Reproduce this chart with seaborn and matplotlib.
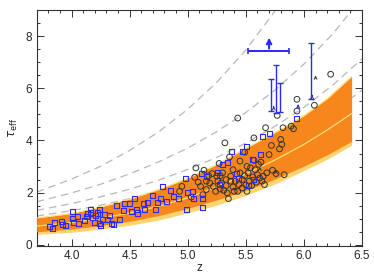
import numpy as np
import pandas as pd
import matplotlib
matplotlib.use("Agg")
import matplotlib.pyplot as plt
import seaborn as sns
from matplotlib.ticker import MultipleLocator

# model band
band_z = [3.7, 4.0, 4.25, 4.5, 4.75, 5.0, 5.25, 5.5, 5.75, 6.0, 6.2, 6.41]
band_upper = [1.03, 1.2, 1.45, 1.75, 2.12, 2.55, 3.08, 3.7, 4.3, 4.95, 5.6, 6.45]
band_mid = [0.72, 0.85, 1.02, 1.22, 1.48, 1.8, 2.22, 2.72, 3.25, 3.85, 4.4, 5.03]
band_lower_in = [0.5, 0.6, 0.74, 0.9, 1.12, 1.4, 1.72, 2.08, 2.52, 3.02, 3.45, 3.97]
band_lower_out = [0.4, 0.48, 0.6, 0.75, 0.95, 1.22, 1.52, 1.9, 2.33, 2.85, 3.28, 3.82]

# dashed gray curves
dash_z = [3.7, 4.0, 4.25, 4.5, 4.75, 5.0, 5.25, 5.5, 5.75, 6.0, 6.25, 6.5]
dash_1 = [2.02, 2.52, 3.01, 3.62, 4.33, 5.20, 6.23, 7.47, 8.96, 10.7, 12.8, 15.3]
dash_2 = [1.65, 1.99, 2.32, 2.72, 3.18, 3.71, 4.34, 5.07, 5.93, 6.93, 8.1, 9.47]
dash_3 = [1.32, 1.58, 1.84, 2.13, 2.48, 2.89, 3.35, 3.90, 4.54, 5.27, 6.13, 7.13]
dash_4 = [1.10, 1.31, 1.52, 1.77, 2.06, 2.40, 2.79, 3.24, 3.77, 4.38, 5.10, 5.93]

# blue squares
sq_z = [3.81, 3.85, 3.84, 3.91, 3.92, 3.95, 4.01, 4.01, 4.02, 4.05, 4.06, 4.11,
        4.13, 4.14, 4.16, 4.16, 4.18, 4.20, 4.21, 4.22, 4.24, 4.24, 4.25, 4.27,
        4.28, 4.31, 4.33, 4.34, 4.36, 4.39, 4.41, 4.45, 4.46, 4.50, 4.52, 4.54,
        4.56, 4.57, 4.62, 4.63, 4.65, 4.70, 4.72, 4.74, 4.77, 4.78, 4.82, 4.85,
        4.88, 4.92, 4.98, 4.99, 5.00, 5.04, 5.05, 5.12, 5.13, 5.13, 5.16, 5.26,
        5.27, 5.30, 5.34, 5.38, 5.42, 5.44, 5.47, 5.51, 5.52, 5.56, 5.57, 5.63,
        5.64, 5.70, 5.94]
sq_tau = [0.71, 0.86, 0.62, 0.90, 0.76, 0.73, 1.27, 1.01, 0.86, 1.09, 0.81, 0.92,
          1.09, 1.19, 1.37, 1.22, 1.03, 0.86, 1.12, 1.22, 1.37, 0.83, 0.73, 0.96,
          1.15, 0.96, 1.12, 0.81, 0.77, 1.50, 0.96, 1.32, 1.58, 1.58, 1.28, 1.76,
          1.37, 1.22, 1.58, 1.37, 1.63, 1.88, 1.37, 1.63, 1.76, 2.22, 1.67, 2.09,
          1.86, 1.76, 2.54, 1.37, 1.99, 2.05, 1.76, 2.73, 1.78, 1.42, 2.63, 2.78,
          2.33, 3.08, 3.17, 3.59, 2.73, 2.54, 3.59, 3.78, 2.29, 3.29, 2.50, 3.46,
          4.14, 4.26, 4.83]

# black circles
ci_z = [4.93, 4.95, 5.03, 5.06, 5.09, 5.07, 5.11, 5.13, 5.14, 5.16, 5.16, 5.18,
        5.19, 5.21, 5.22, 5.24, 5.25, 5.26, 5.27, 5.28, 5.28, 5.29, 5.30, 5.31,
        5.32, 5.33, 5.33, 5.34, 5.35, 5.36, 5.37, 5.37, 5.39, 5.39, 5.40, 5.41,
        5.43, 5.43, 5.44, 5.45, 5.45, 5.47, 5.47, 5.49, 5.49, 5.50, 5.51, 5.51,
        5.52, 5.53, 5.54, 5.55, 5.56, 5.57, 5.57, 5.58, 5.59, 5.60, 5.61, 5.62,
        5.63, 5.64, 5.65, 5.66, 5.67, 5.68, 5.70, 5.72, 5.73, 5.76, 5.77, 5.79,
        5.80, 5.81, 5.82, 5.83, 5.89, 5.91, 5.94, 5.94, 6.09, 6.23]
ci_tau = [2.05, 2.24, 1.83, 2.59, 2.40, 2.95, 2.24, 1.92, 2.86, 2.44, 2.12, 2.65,
          2.37, 2.73, 2.24, 2.05, 2.63, 2.44, 3.12, 2.14, 2.65, 2.37, 2.76, 2.09,
          3.91, 2.50, 2.27, 1.99, 1.77, 3.37, 2.44, 2.63, 2.22, 2.88, 2.05, 2.44,
          2.05, 4.86, 2.31, 2.76, 3.21, 2.50, 2.18, 2.65, 3.55, 2.29, 3.01, 2.05,
          2.76, 2.44, 2.95, 2.27, 2.60, 4.10, 3.24, 2.88, 2.40, 2.69, 3.08, 2.56,
          3.17, 2.44, 2.63, 2.31, 4.49, 2.76, 3.46, 3.81, 2.86, 2.73, 4.96, 3.68,
          4.04, 3.85, 4.49, 2.69, 4.55, 4.45, 5.58, 5.13, 5.35, 6.54]

# black lower-limit arrows (z, tau start, tau end)
arr_z = [5.62, 5.74, 5.76, 6.07, 6.10]
arr_lo = [2.80, 5.20, 2.72, 5.62, 6.28]
arr_hi = [3.10, 5.42, 2.98, 5.85, 6.60]

# blue vertical ranges
bar_z = [5.72, 5.76, 5.79, 6.06]
bar_lo = [5.13, 5.06, 5.09, 5.58]
bar_hi = [6.37, 6.88, 6.22, 7.72]

sq = pd.DataFrame({"z": sq_z, "tau": sq_tau})
ci = pd.DataFrame({"z": ci_z, "tau": ci_tau})

sns.set_style("ticks")
plt.rcParams["font.family"] = ["Liberation Sans", "DejaVu Sans"]
plt.rcParams["font.size"] = 8.5

fig = plt.figure(figsize=(3.74, 2.8), dpi=100)
ax = fig.add_axes([0.098, 0.121, 0.870, 0.843])

for d in [dash_1, dash_2, dash_3, dash_4]:
    ax.plot(dash_z, d, color="#b8b8b8", lw=0.9, ls=(0, (6, 4)), zorder=1)

ax.fill_between(band_z, band_lower_out, band_upper, color="#fdd470", lw=0, zorder=2)
ax.fill_between(band_z, band_lower_in, band_upper, color="#f7861c", lw=0, zorder=3)
ax.plot(band_z, band_upper, color="#ffe070", lw=0.8, zorder=4)
ax.plot(band_z, band_mid, color="#ffe070", lw=0.9, zorder=4)

sns.scatterplot(data=ci, x="z", y="tau", marker="o", s=17, facecolor="none",
                edgecolor="#333333", linewidth=0.7, ax=ax, zorder=5)
sns.scatterplot(data=sq, x="z", y="tau", marker="s", s=13, facecolor="none",
                edgecolor="#2a2aff", linewidth=0.8, ax=ax, zorder=6)

for z, lo, hi in zip(arr_z, arr_lo, arr_hi):
    ax.annotate("", xy=(z, hi), xytext=(z, lo),
                arrowprops=dict(arrowstyle="->", color="#333333", lw=0.7,
                                mutation_scale=5), zorder=7)
ax.annotate("", xy=(5.95, 5.5), xytext=(5.95, 5.19),
            arrowprops=dict(arrowstyle="->", color="#2a2aff", lw=0.9,
                            mutation_scale=5), zorder=7)

ax.errorbar(bar_z, [(a + b) / 2 for a, b in zip(bar_lo, bar_hi)],
            yerr=[[(b - a) / 2 for a, b in zip(bar_lo, bar_hi)]] * 2,
            fmt="none", ecolor="#2a2aff", elinewidth=1.0, capsize=2.5, zorder=7)
ax.errorbar([5.70], [7.42], xerr=[[0.18], [0.17]], fmt="none",
            ecolor="#2a2aff", elinewidth=1.4, capsize=2.5, capthick=1.2, zorder=7)
ax.annotate("", xy=(5.70, 8.05), xytext=(5.70, 7.42),
            arrowprops=dict(arrowstyle="->", color="#2a2aff", lw=1.5,
                            mutation_scale=8), zorder=7)

ax.set_xlim(3.7, 6.5)
ax.set_ylim(-0.05, 9)
ax.xaxis.set_major_locator(MultipleLocator(0.5))
ax.xaxis.set_minor_locator(MultipleLocator(0.1))
ax.yaxis.set_major_locator(MultipleLocator(2))
ax.yaxis.set_minor_locator(MultipleLocator(0.5))
ax.tick_params(which="both", direction="in", top=True, right=True,
               color="#333333", width=0.7)
ax.tick_params(which="major", length=5, labelsize=8.5, pad=3)
ax.tick_params(which="minor", length=2.5)
for sp in ax.spines.values():
    sp.set_color("#333333")
    sp.set_linewidth(0.8)

ax.set_xlabel("z", fontsize=8.5, labelpad=0)
ax.set_ylabel(r"$\tau_{\rm eff}$", fontsize=8.5, labelpad=4)

fig.savefig("out.png", dpi=100)
